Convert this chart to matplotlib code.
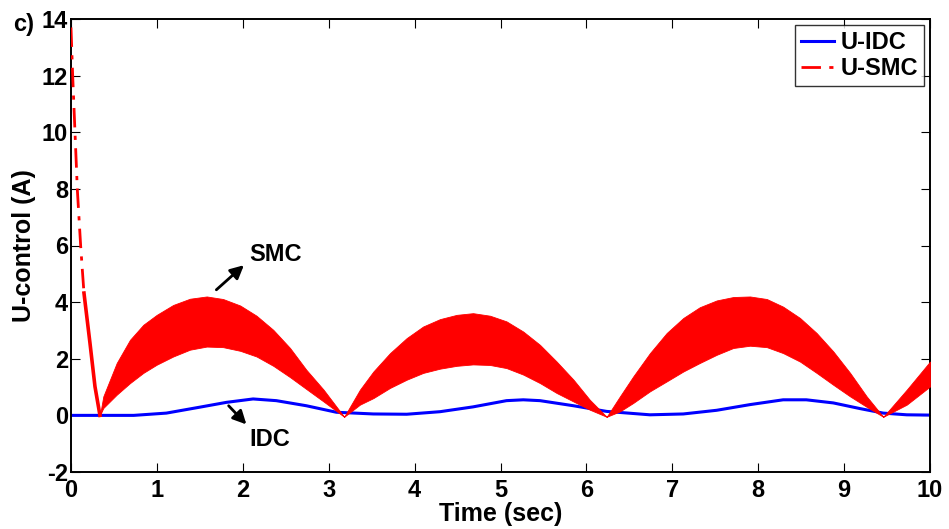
import numpy as np
import matplotlib
matplotlib.use("Agg")
import matplotlib.pyplot as plt

plt.rcParams["font.family"] = ["Liberation Sans", "DejaVu Sans"]
plt.rcParams["font.weight"] = "bold"
plt.rcParams["axes.unicode_minus"] = False

# U-IDC control signal
t_idc = [0, 0.73, 1.11, 1.50, 1.81, 2.12, 2.39, 2.74, 3.09, 3.52, 3.908, 4.296,
         4.68, 5.07, 5.265, 5.46, 5.85, 6.236, 6.74, 7.128, 7.517, 7.904, 8.29,
         8.56, 8.874, 9.185, 9.456, 9.73, 10.0]
u_idc = [0, 0, 0.08, 0.29, 0.46, 0.58, 0.52, 0.34, 0.11, 0.05, 0.04, 0.13,
         0.30, 0.52, 0.55, 0.52, 0.34, 0.14, 0.02, 0.05, 0.18, 0.38, 0.55,
         0.55, 0.44, 0.24, 0.08, 0.02, 0.01]

# U-SMC initial decay
t_dec = [0, 0.02, 0.047, 0.074, 0.113, 0.151]
u_dec = [13.7, 11.96, 9.96, 7.96, 5.96, 4.32]
t_dec2 = [0.151, 0.221, 0.279, 0.337]
u_dec2 = [4.32, 2.55, 1.02, 0.0]

# U-SMC chattering band (upper / lower envelope)
t_arch1 = [0.337, 0.376, 0.532, 0.687, 0.842, 0.998, 1.19, 1.385, 1.58, 1.77,
           1.97, 2.16, 2.355, 2.55, 2.74, 2.94, 3.18]
hi_arch1 = [0.0, 0.67, 1.85, 2.67, 3.20, 3.55, 3.90, 4.12, 4.20, 4.11, 3.88,
            3.52, 3.02, 2.38, 1.61, 0.91, -0.05]
lo_arch1 = [0.0, 0.26, 0.73, 1.14, 1.50, 1.79, 2.08, 2.32, 2.43, 2.41, 2.28,
            2.08, 1.75, 1.35, 0.93, 0.49, -0.05]

t_arch2 = [3.18, 3.364, 3.52, 3.714, 3.908, 4.10, 4.296, 4.49, 4.68, 4.878,
           5.07, 5.265, 5.46, 5.654, 5.85, 6.04, 6.236]
hi_arch2 = [-0.05, 0.91, 1.55, 2.20, 2.73, 3.14, 3.40, 3.55, 3.61, 3.52, 3.32,
            2.96, 2.49, 1.90, 1.26, 0.55, -0.05]
lo_arch2 = [-0.05, 0.38, 0.61, 0.97, 1.26, 1.50, 1.65, 1.75, 1.80, 1.78, 1.67,
            1.44, 1.14, 0.79, 0.49, 0.20, -0.05]

t_arch3 = [6.236, 6.39, 6.546, 6.74, 6.935, 7.128, 7.32, 7.517, 7.71, 7.904,
           8.10, 8.29, 8.487, 8.68, 8.874, 9.07, 9.263, 9.456]
hi_arch3 = [-0.05, 0.67, 1.38, 2.20, 2.91, 3.44, 3.82, 4.06, 4.18, 4.20, 4.11,
            3.84, 3.44, 2.91, 2.26, 1.50, 0.67, -0.05]
lo_arch3 = [-0.05, 0.14, 0.44, 0.85, 1.20, 1.55, 1.85, 2.14, 2.38, 2.46, 2.41,
            2.20, 1.90, 1.50, 1.08, 0.67, 0.30, -0.05]

t_arch4 = [9.456, 9.73, 10.0]
hi_arch4 = [-0.05, 0.91, 1.90]
lo_arch4 = [-0.05, 0.38, 1.02]

t_band = np.concatenate([t_arch1, t_arch2, t_arch3, t_arch4])
hi_band = np.concatenate([hi_arch1, hi_arch2, hi_arch3, hi_arch4])
lo_band = np.concatenate([lo_arch1, lo_arch2, lo_arch3, lo_arch4])

fig = plt.figure(figsize=(9.49, 5.29), dpi=100)
ax = fig.add_axes([71 / 949, 57 / 529, 859 / 949, 453 / 529])

(l_idc,) = ax.plot(t_idc, u_idc, color="#0000ff", lw=2.2, label="U-IDC", zorder=2)
(l_smc,) = ax.plot(t_dec, u_dec, color="#ff0000", lw=2, linestyle="-.",
                   dashes=(7, 3, 1.5, 3), label="U-SMC", zorder=3)
ax.plot(t_dec2, u_dec2, color="#ff0000", lw=2.6, zorder=3)
ax.fill_between(t_band, lo_band, hi_band, color="#ff0000", lw=0.6,
                edgecolor="#ff0000", zorder=3)

ax.set_xlim(0, 10)
ax.set_ylim(-2, 14)
ax.set_xticks(range(0, 11))
ax.set_yticks(range(-2, 15, 2))
ax.tick_params(direction="in", length=6.5, width=0.8, top=True, right=True,
               labelsize=17)
ax.tick_params(axis="x", pad=5)
ax.tick_params(axis="y", pad=2)
for s in ax.spines.values():
    s.set_linewidth(1.4)

ax.set_xlabel("Time (sec)", fontsize=18, fontweight="bold", labelpad=0)
ax.set_ylabel("U-control (A)", fontsize=18, fontweight="bold", labelpad=4)

leg = ax.legend(handles=[l_idc, l_smc], loc="upper right", fontsize=17,
                frameon=True, fancybox=False, borderaxespad=0.25,
                handlelength=1.4, handletextpad=0.3, labelspacing=0.15,
                borderpad=0.25)
leg.get_frame().set_edgecolor("black")
leg.get_frame().set_linewidth(1.0)
for txt in leg.get_texts():
    txt.set_fontweight("bold")

ax.annotate("", xy=(2.037, 5.37), xytext=(1.668, 4.37),
            arrowprops=dict(arrowstyle="-|>", color="black", lw=2,
                            mutation_scale=20), zorder=5)
ax.text(2.072, 5.67, "SMC", fontsize=17, fontweight="bold", ha="left",
        va="center")
ax.annotate("", xy=(2.064, -0.39), xytext=(1.813, 0.41),
            arrowprops=dict(arrowstyle="-|>", color="black", lw=2,
                            mutation_scale=20), zorder=5)
ax.text(2.076, -0.86, "IDC", fontsize=17, fontweight="bold", ha="left",
        va="center")

fig.text(13 / 949, 1 - 25 / 529, "c)", fontsize=17, fontweight="bold",
         ha="left", va="center")

fig.savefig("out.png", dpi=100)
